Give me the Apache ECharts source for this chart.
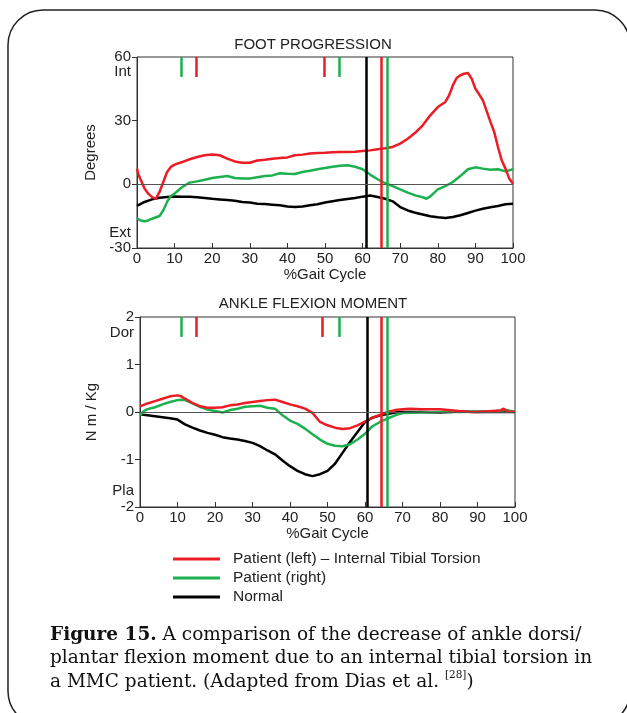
<!DOCTYPE html>
<html><head><meta charset="utf-8">
<script src="https://cdn.jsdelivr.net/npm/echarts@6/dist/echarts.min.js"></script>
<style>html,body{margin:0;padding:0;background:#fff}#c{width:627px;height:713px}</style>
</head><body><div id="c"></div><script>
// ---------- DATA ----------
const seriesNames = ['Patient (left) \u2013 Internal Tibial Torsion', 'Patient (right)', 'Normal'];
const chartTitles = ['FOOT PROGRESSION', 'ANKLE FLEXION MOMENT'];
const xName = '%Gait Cycle';
const yNames = ['Degrees', 'N m / Kg'];
const topEndLabels = ['Int', 'Ext'];
const botEndLabels = ['Dor', 'Pla'];

// Foot progression (degrees) [gait %, value]
const fpLeft = [[0,7.4],[0.3,5],[2,-2],[3,-4.4],[4,-6],[5,-6.8],[5.5,-6.5],[6,-3.6],[7,1.1],[8,5.8],[9,8.2],[10,9.3],[12,10.5],[14,11.8],[16,12.9],[18,13.7],[20,14.1],[22,13.7],[24,12.1],[26,10.8],[28,10.2],[30,10.2],[32,11.2],[34,11.6],[36,12.1],[38,12.4],[40,12.7],[42,13.7],[44,14],[46,14.5],[48,14.8],[50,14.9],[52,15.1],[54,15.2],[56,15.2],[58,15.4],[60,15.7],[62,16],[64,16.5],[66,17],[68,17.6],[70,19.2],[72,21.5],[74,24.3],[76,27.8],[78,32.5],[80,36.4],[82,38.8],[83,41.9],[84,46.6],[85,50.1],[86,51.4],[87,52.1],[88,52.5],[89,49.8],[90,45.1],[92,39.6],[94,29.4],[95,24.7],[96,17.6],[97,11.3],[98,7.4],[99,2.7],[100,0.3]];
const fpRight = [[0,-16.2],[1,-17],[2,-17.4],[3,-17],[4,-16.2],[6,-14.9],[7,-12.2],[8,-8.3],[9,-5.5],[10,-4.4],[11,-2.8],[12,-1.3],[13,-0.2],[14,0.8],[16,1.4],[18,2.2],[20,3],[22,3.5],[24,3.9],[26,3],[28,2.7],[30,2.7],[32,3.3],[34,3.9],[36,4.2],[38,5.2],[40,5],[42,4.9],[44,5.8],[46,6.4],[48,7.1],[50,7.7],[52,8.3],[54,8.8],[56,9],[58,8.3],[60,7.1],[62,4.6],[64,2.4],[66,0.5],[68,-0.8],[70,-2.4],[72,-3.9],[74,-5.2],[76,-6.1],[77,-6.8],[78,-5.7],[80,-2.4],[82,-0.8],[84,1.1],[86,3.9],[88,7.1],[90,8],[92,7.4],[94,6.9],[96,7.1],[98,6.1],[100,7.1]];
const fpNormal = [[0,-10.1],[2,-8.3],[4,-7.1],[6,-6.3],[8,-6],[10,-5.7],[12,-5.8],[14,-5.8],[16,-6.1],[18,-6.4],[20,-6.8],[22,-7.1],[24,-7.4],[26,-7.7],[28,-8.3],[30,-8.6],[32,-9.1],[34,-9.3],[36,-9.6],[38,-9.9],[40,-10.4],[42,-10.7],[44,-10.4],[46,-9.9],[48,-9.4],[50,-8.6],[52,-8],[54,-7.4],[56,-6.9],[58,-6.4],[60,-5.8],[62,-5.3],[64,-6],[66,-6.8],[68,-8],[70,-10.7],[72,-12.3],[74,-13.4],[76,-14.2],[78,-15],[80,-15.5],[82,-15.9],[84,-15.4],[86,-14.6],[88,-13.5],[90,-12.4],[92,-11.5],[94,-10.8],[96,-10.2],[98,-9.4],[100,-9.1]];

// Ankle flexion moment (N m / Kg)
const amLeft = [[0,0.12],[2,0.18],[4,0.23],[6,0.28],[8,0.33],[10,0.35],[11,0.33],[12,0.28],[14,0.19],[16,0.12],[18,0.09],[20,0.09],[22,0.1],[24,0.14],[26,0.16],[28,0.19],[30,0.21],[32,0.23],[34,0.25],[36,0.26],[38,0.21],[40,0.16],[42,0.12],[44,0.07],[46,-0.02],[48,-0.21],[50,-0.28],[52,-0.33],[54,-0.36],[56,-0.34],[58,-0.28],[60,-0.2],[62,-0.12],[64,-0.06],[66,0],[68,0.04],[70,0.06],[72,0.07],[75,0.06],[80,0.06],[85,0.02],[88,0],[90,0],[94,0.02],[96,0.03],[97,0.07],[98,0.01],[100,0]];
const amRight = [[0,-0.07],[1,0.02],[2,0.06],[4,0.1],[6,0.16],[8,0.21],[10,0.25],[11,0.26],[12,0.25],[14,0.18],[16,0.11],[18,0.05],[20,0.02],[22,-0.01],[24,0.04],[26,0.07],[28,0.11],[30,0.12],[32,0.13],[34,0.09],[36,0.07],[38,-0.07],[40,-0.18],[42,-0.25],[44,-0.35],[46,-0.47],[48,-0.58],[50,-0.67],[52,-0.71],[54,-0.72],[56,-0.68],[58,-0.58],[60,-0.46],[62,-0.3],[64,-0.21],[66,-0.14],[68,-0.07],[70,-0.02],[75,-0.01],[80,0],[85,0],[90,0.01],[95,0.02],[98,0.04],[100,0]];
const amNormal = [[0,-0.05],[2,-0.07],[4,-0.09],[6,-0.11],[8,-0.13],[10,-0.16],[12,-0.26],[14,-0.33],[16,-0.39],[18,-0.44],[20,-0.48],[22,-0.53],[24,-0.56],[26,-0.58],[28,-0.61],[30,-0.65],[32,-0.72],[34,-0.81],[36,-0.89],[38,-1.02],[40,-1.14],[42,-1.24],[44,-1.31],[46,-1.35],[48,-1.31],[50,-1.24],[52,-1.09],[54,-0.86],[56,-0.63],[58,-0.42],[60,-0.21],[62,-0.12],[64,-0.07],[66,-0.04],[68,-0.01],[70,0],[75,0],[80,-0.01],[85,0.01],[90,0],[95,0],[100,0]];

// Gait event markers (% gait cycle)
const fpToeOff = {left: 65.0, right: 66.5, normal: 61.1};
const fpEvents = {left: [15.7, 49.7], right: [11.9, 53.8]};
const amToeOff = {left: 64.4, right: 65.9, normal: 60.6};
const amEvents = {left: [15.1, 48.7], right: [11.1, 53.2]};
const eventTickTop = [60, 50.6];
const eventTickBot = [2, 1.58];

// ---------- STYLE / BUILD ----------
const RED = '#ec1c24', GREEN = '#1cb04e', BLACK = '#000000';
const FONT = 'Liberation Sans, Arial, sans-serif';
const SERIF = 'DejaVu Serif, serif';
const TXT = '#222';
const FS = 15;

function shortMarks(xs, range) {
  return xs.map(x => [{coord: [x, range[0]]}, {coord: [x, range[1]]}]);
}
function mk(color, list) {
  return {silent: true, symbol: 'none', label: {show: false},
    lineStyle: {color: color, width: 2.5, type: 'solid'}, data: list};
}
function line(name, data, color, gi, extraMarks) {
  return {name: name, type: 'line', xAxisIndex: gi, yAxisIndex: gi, data: data,
    showSymbol: false, symbol: 'none', lineStyle: {color: color, width: 2.5}, itemStyle: {color: color},
    z: 3, markLine: extraMarks, animation: false};
}

const xAxisBase = (gi) => ({
  gridIndex: gi, type: 'value', min: 0, max: 100, interval: 10,
  axisLine: {onZero: false, lineStyle: {color: '#333', width: 1}},
  axisTick: {show: true, inside: true, length: 5, lineStyle: {color: '#333'}}, splitLine: {show: false},
  axisLabel: {margin: 3, fontSize: FS, color: TXT, fontFamily: FONT},
  name: xName, nameLocation: 'middle', nameGap: 18,
  nameTextStyle: {fontSize: FS, color: TXT, fontFamily: FONT}
});

const option = {
  animation: false,
  backgroundColor: '#fff',
  title: [
    {text: chartTitles[0], left: 308, top: 32, textAlign: 'center', textStyle: {fontSize: FS, fontWeight: 'normal', color: TXT, fontFamily: FONT}},
    {text: chartTitles[1], left: 308, top: 291, textAlign: 'center', textStyle: {fontSize: FS, fontWeight: 'normal', color: TXT, fontFamily: FONT}},
    {text: '{b|Figure 15.} A comparison of the decrease of ankle dorsi/\nplantar flexion moment due to an internal tibial torsion in\na MMC patient. (Adapted from Dias et al. {sup|[28]})',
     left: 45, top: 618,
     textStyle: {fontSize: 18.5, fontWeight: 'normal', color: '#111', fontFamily: SERIF, lineHeight: 23.5,
       rich: {b: {fontWeight: 'bold', fontSize: 18.5, fontFamily: SERIF, color: '#111', lineHeight: 23.5},
              sup: {fontSize: 10.5, fontFamily: SERIF, color: '#111', verticalAlign: 'top', lineHeight: 23.5, padding: [0, 0, 8, 0]}}}}
  ],
  legend: {
    orient: 'vertical', left: 168, top: 546, itemWidth: 47, itemHeight: 3, itemGap: 3, icon: 'rect',
    data: seriesNames,
    textStyle: {fontSize: 15.5, color: TXT, fontFamily: FONT, padding: [0, 0, 0, 8]},
    selectedMode: false
  },
  grid: [
    {left: 137, top: 57, width: 376, height: 191, show: true, borderColor: '#333', borderWidth: 1, backgroundColor: 'transparent'},
    {left: 140, top: 317, width: 375, height: 190, show: true, borderColor: '#333', borderWidth: 1, backgroundColor: 'transparent'}
  ],
  xAxis: [xAxisBase(0), xAxisBase(1)],
  yAxis: [
    {gridIndex: 0, type: 'value', min: -30, max: 60, interval: 30,
     axisLine: {show: true, lineStyle: {color: '#333'}}, axisTick: {show: true, length: 5, lineStyle: {color: '#333'}},
     splitLine: {show: false},
     axisLabel: {margin: 6, fontSize: FS, color: TXT, fontFamily: FONT, lineHeight: 15,
       formatter: v => v === 60 ? '\n60\n' + topEndLabels[0] : (v === -30 ? topEndLabels[1] + '\n-30\n' : String(v))},
     name: yNames[0], nameLocation: 'middle', nameGap: 37, nameRotate: 90,
     nameTextStyle: {fontSize: FS, color: TXT, fontFamily: FONT}},
    {gridIndex: 1, type: 'value', min: -2, max: 2, interval: 1,
     axisLine: {show: true, lineStyle: {color: '#333'}}, axisTick: {show: true, length: 5, lineStyle: {color: '#333'}},
     splitLine: {show: false},
     axisLabel: {margin: 6, fontSize: FS, color: TXT, fontFamily: FONT, lineHeight: 16,
       formatter: v => v === 2 ? '\n2\n' + botEndLabels[0] : (v === -2 ? botEndLabels[1] + '\n-2\n' : String(v))},
     name: yNames[1], nameLocation: 'middle', nameGap: 38, nameRotate: 90,
     nameTextStyle: {fontSize: FS, color: TXT, fontFamily: FONT}}
  ],
  graphic: [
    {type: 'rect', z: -10, shape: {x: 8, y: 10, width: 622, height: 716, r: 35},
     style: {fill: 'none', stroke: '#222', lineWidth: 1.5}, silent: true}
  ],
  series: [
    line(seriesNames[2], fpNormal, BLACK, 0, mk(BLACK, [
      {xAxis: fpToeOff.normal},
      [{coord: [0, 0], lineStyle: {color: '#555', width: 1.2}}, {coord: [100, 0]}]
    ])),
    line(seriesNames[1], fpRight, GREEN, 0, mk(GREEN, [{xAxis: fpToeOff.right}].concat(shortMarks(fpEvents.right, eventTickTop)))),
    line(seriesNames[0], fpLeft, RED, 0, mk(RED, [{xAxis: fpToeOff.left}].concat(shortMarks(fpEvents.left, eventTickTop)))),
    line(seriesNames[2], amNormal, BLACK, 1, mk(BLACK, [
      {xAxis: amToeOff.normal},
      [{coord: [0, 0], lineStyle: {color: '#555', width: 1.2}}, {coord: [100, 0]}]
    ])),
    line(seriesNames[1], amRight, GREEN, 1, mk(GREEN, [{xAxis: amToeOff.right}].concat(shortMarks(amEvents.right, eventTickBot)))),
    line(seriesNames[0], amLeft, RED, 1, mk(RED, [{xAxis: amToeOff.left}].concat(shortMarks(amEvents.left, eventTickBot))))
  ]
};

const chart = echarts.init(document.getElementById('c'), null, {renderer: 'canvas'});
chart.setOption(option);
</script></body></html>
